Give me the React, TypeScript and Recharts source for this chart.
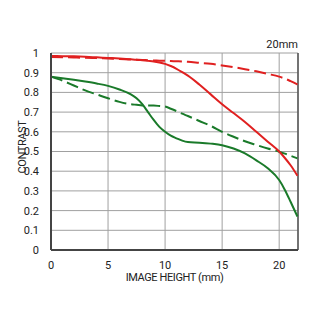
import React from "react";
import {
  ComposedChart,
  Line,
  XAxis,
  YAxis,
  CartesianGrid,
  ReferenceLine,
  Label,
} from "recharts";

// image height (mm) samples
const heights = [0, 1, 2, 3, 4, 5, 6, 7, 7.5, 8, 8.5, 9, 9.5, 10, 10.5, 11, 11.5, 12, 13, 14, 15, 16, 17, 18, 19, 20, 20.5, 21, 21.6];

// contrast values
const redSolid = [0.985, 0.984, 0.983, 0.981, 0.978, 0.975, 0.972, 0.968, 0.966, 0.963, 0.96, 0.957, 0.952, 0.945, 0.934, 0.92, 0.903, 0.885, 0.84, 0.79, 0.74, 0.695, 0.65, 0.6, 0.55, 0.5, 0.467, 0.43, 0.377];
const redDashed = [0.98, 0.979, 0.977, 0.976, 0.974, 0.972, 0.97, 0.967, 0.966, 0.965, 0.963, 0.962, 0.961, 0.96, 0.959, 0.958, 0.957, 0.955, 0.95, 0.945, 0.937, 0.928, 0.918, 0.907, 0.894, 0.88, 0.87, 0.857, 0.84];
const greenSolid = [0.88, 0.872, 0.864, 0.855, 0.845, 0.833, 0.815, 0.79, 0.77, 0.74, 0.7, 0.66, 0.625, 0.6, 0.58, 0.567, 0.555, 0.548, 0.545, 0.54, 0.532, 0.515, 0.49, 0.455, 0.415, 0.355, 0.305, 0.245, 0.17];
const greenDashed = [0.88, 0.86, 0.835, 0.81, 0.79, 0.77, 0.752, 0.74, 0.737, 0.734, 0.733, 0.733, 0.731, 0.728, 0.717, 0.705, 0.692, 0.68, 0.655, 0.63, 0.6, 0.575, 0.552, 0.533, 0.515, 0.499, 0.489, 0.478, 0.465];

const xTicks = [0, 5, 10, 15, 20];
const yTicks = [0, 0.1, 0.2, 0.3, 0.4, 0.5, 0.6, 0.7, 0.8, 0.9, 1];

const data = heights.map((h, i) => ({
  h,
  rs: redSolid[i],
  rd: redDashed[i],
  gs: greenSolid[i],
  gd: greenDashed[i],
}));

const X_MAX = 21.65;
const font = "Roboto, 'Liberation Sans', Arial, sans-serif";

export default function App() {
  return (
    <div style={{ position: "absolute", left: 0, top: 0, width: 320, height: 320, background: "#fff" }}>
      <ComposedChart
        width={320}
        height={320}
        data={data}
        margin={{ top: 53, right: 22, bottom: 0, left: 0 }}
        style={{ fontFamily: font }}
      >
        <CartesianGrid stroke="#a0a0a0" strokeWidth={1} />
        <XAxis
          dataKey="h"
          type="number"
          domain={[0, X_MAX]}
          ticks={xTicks}
          height={70}
          tickLine={false}
          axisLine={{ stroke: "#444", strokeWidth: 2 }}
          tick={{ fill: "#222", fontSize: 11 }}
          tickMargin={5}
        >
          <Label value="IMAGE HEIGHT (mm)" position="insideTop" offset={23} fill="#222" fontSize={11} letterSpacing={-0.4} />
        </XAxis>
        <YAxis
          type="number"
          domain={[0, 1]}
          ticks={yTicks}
          width={51}
          tickLine={false}
          axisLine={{ stroke: "#444", strokeWidth: 2 }}
          tick={{ fill: "#222", fontSize: 11 }}
          tickMargin={6}
          interval={0}
        />
        <ReferenceLine x={X_MAX} stroke="#555" strokeWidth={1.5} />
        <Line dataKey="rd" type="monotone" stroke="#e02020" strokeWidth={2} strokeDasharray="12 5" dot={false} isAnimationActive={false} />
        <Line dataKey="gd" type="monotone" stroke="#1a7a2a" strokeWidth={2} strokeDasharray="12 5" dot={false} isAnimationActive={false} />
        <Line dataKey="gs" type="monotone" stroke="#1a7a2a" strokeWidth={2} dot={false} isAnimationActive={false} />
        <Line dataKey="rs" type="monotone" stroke="#e02020" strokeWidth={2} dot={false} isAnimationActive={false} />
        <text
          x={0}
          y={0}
          transform="translate(26, 147) rotate(-90)"
          textAnchor="middle"
          fontSize={11}
          fill="#222"
          fontFamily={font}
          letterSpacing={-0.4}
        >
          CONTRAST
        </text>
        <text x={298} y={48} textAnchor="end" fontSize={11} fill="#222" fontFamily={font}>
          20mm
        </text>
      </ComposedChart>
    </div>
  );
}
